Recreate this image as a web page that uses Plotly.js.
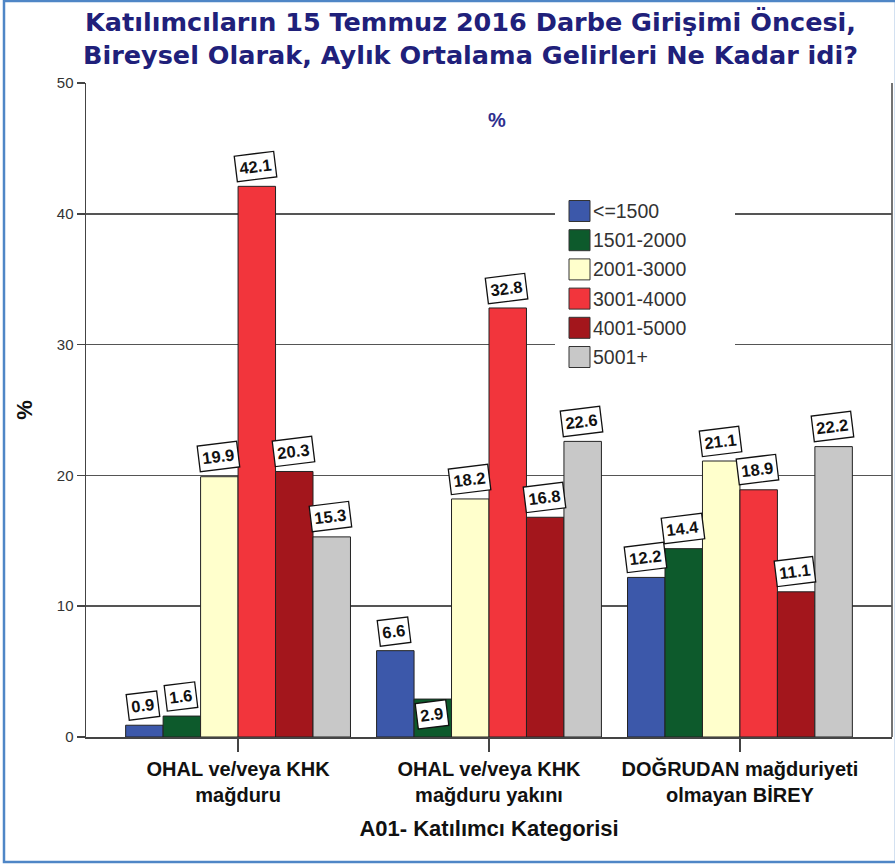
<!DOCTYPE html>
<html>
<head>
<meta charset="utf-8">
<script src="https://cdn.plot.ly/plotly-3.0.1.min.js"></script>
<style>html,body{margin:0;padding:0;background:#fff;}#chart{width:895px;height:865px;}</style>
</head>
<body>
<div id="chart"></div>
<script>
// ---- data ----
const categories = ["OHAL ve/veya KHK<br>mağduru", "OHAL ve/veya KHK<br>mağduru yakını", "DOĞRUDAN mağduriyeti<br>olmayan BİREY"];
const seriesNames = ["<=1500", "1501-2000", "2001-3000", "3001-4000", "4001-5000", "5001+"];
const s_le1500 = [0.9, 6.6, 12.2];
const s_1501_2000 = [1.6, 2.9, 14.4];
const s_2001_3000 = [19.9, 18.2, 21.1];
const s_3001_4000 = [42.1, 32.8, 18.9];
const s_4001_5000 = [20.3, 16.8, 11.1];
const s_5001plus = [15.3, 22.6, 22.2];
const yTicks = [0, 10, 20, 30, 40, 50];
const titleText = "Katılımcıların 15 Temmuz 2016 Darbe Girişimi Öncesi,<br>Bireysel Olarak, Aylık Ortalama Gelirleri Ne Kadar idi?";
const xTitle = "A01- Katılımcı Kategorisi";
const yTitle = "%";

// ---- styles ----
const seriesValues = [s_le1500, s_1501_2000, s_2001_3000, s_3001_4000, s_4001_5000, s_5001plus];
const colors = ["#3C58AA", "#0D5A2C", "#FFFFCC", "#F2353C", "#A3161C", "#C8C8C8"];
const W = 895, H = 865;
const M = {l: 86, r: 3, t: 83, b: 128};
const pw = W - M.l - M.r, ph = H - M.t - M.b;
const bargap = 0.104;
const barW = (1 - bargap) / seriesNames.length;
const xIdx = categories.map((c, i) => i);
const sans = 'Liberation Sans, Arial, sans-serif';

const traces = seriesValues.map((vals, j) => ({
  type: 'bar',
  x: xIdx,
  y: vals,
  name: seriesNames[j],
  marker: {color: colors[j], line: {color: '#222', width: 1}},
  showlegend: false,
  hoverinfo: 'skip'
}));

const annotations = [];
const shapes = [];
// value labels
seriesValues.forEach((vals, j) => {
  vals.forEach((v, i) => {
    const x = i + (j - (seriesNames.length - 1) / 2) * barW;
    // SPSS pushed the one label that would collide with its neighbour down onto the bar
    const pushed = (i === 1 && j === 1);
    annotations.push({
      x: x, y: v, xref: 'x', yref: 'y',
      text: '<b>' + v.toFixed(1) + '</b>',
      showarrow: false,
      xanchor: 'center',
      yanchor: pushed ? 'top' : 'bottom',
      yshift: pushed ? 0 : 4,
      xshift: -1,
      textangle: -7,
      bgcolor: '#fff', bordercolor: '#111', borderwidth: 1.3, borderpad: 3,
      font: {family: sans, size: 16.5, color: '#111'}
    });
  });
});
// "%" label inside plot
annotations.push({
  xref: 'paper', yref: 'paper',
  x: (497 - M.l) / pw, y: 1 - (120 - M.t) / ph,
  text: '<b>%</b>', showarrow: false, xanchor: 'center', yanchor: 'middle',
  font: {family: sans, size: 20, color: '#2E2E8E'}
});
// title as two centred lines
annotations.push({
  xref: 'paper', yref: 'paper',
  x: (470 - M.l) / pw, y: 1 - (38 - M.t) / ph,
  text: '<b>' + titleText + '</b>', showarrow: false, xanchor: 'center', yanchor: 'middle',
  align: 'center',
  font: {family: 'DejaVu Sans, Verdana, sans-serif', size: 25.5, color: '#20207A'}
});
// manual legend
const lgLeft = 555, lgTop = 197, lgRight = 735, lgBottom = 370;
const px2x = p => (p - M.l) / pw;
const py2y = p => 1 - (p - M.t) / ph;
shapes.push({type: 'rect', xref: 'paper', yref: 'paper', layer: 'above',
  x0: px2x(lgLeft), x1: px2x(lgRight), y0: py2y(lgBottom), y1: py2y(lgTop),
  fillcolor: '#fff', line: {width: 0}});
const itemY0 = 211, itemStep = 29.2, boxS = 21, boxX = 569;
seriesNames.forEach((n, j) => {
  const cy = itemY0 + j * itemStep;
  shapes.push({type: 'rect', xref: 'paper', yref: 'paper', layer: 'above',
    x0: px2x(boxX), x1: px2x(boxX + boxS), y0: py2y(cy + boxS / 2), y1: py2y(cy - boxS / 2),
    fillcolor: colors[j], line: {color: '#333', width: 1}});
  annotations.push({xref: 'paper', yref: 'paper', x: px2x(boxX + boxS + 1), y: py2y(cy),
    text: n.replace('<', '&lt;'), showarrow: false, xanchor: 'left', yanchor: 'middle',
    font: {family: sans, size: 19.5, color: '#333'}});
});
// outer blue border
shapes.push({type: 'rect', xref: 'paper', yref: 'paper', layer: 'above',
  x0: px2x(4), x1: px2x(896), y0: py2y(862), y1: py2y(1),
  fillcolor: 'rgba(0,0,0,0)', line: {color: '#4F86C6', width: 2.5}});
// right plot frame line
shapes.push({type: 'line', xref: 'paper', yref: 'paper', layer: 'below',
  x0: 1, x1: 1, y0: 0, y1: 1, line: {color: '#444', width: 1.5}});

const layout = {
  width: W, height: H,
  margin: M,
  paper_bgcolor: '#fff', plot_bgcolor: '#fff',
  barmode: 'group', bargap: bargap, bargroupgap: 0,
  xaxis: {
    type: 'linear', range: [-0.606, 2.606],
    tickmode: 'array', tickvals: xIdx, ticktext: categories.map(c => '<b>' + c + '</b>'),
    ticks: 'outside', ticklen: 13, tickwidth: 1.5, tickcolor: '#444',
    showline: true, linecolor: '#444', linewidth: 1.5,
    showgrid: false, zeroline: false,
    tickfont: {family: sans, size: 20, color: '#111'},
    title: {text: '<b>' + xTitle + '</b>', standoff: 16, font: {family: sans, size: 22, color: '#111'}}
  },
  yaxis: {
    range: [0, 50], tickmode: 'array', tickvals: yTicks,
    ticks: 'outside', ticklen: 8, tickwidth: 1.5, tickcolor: '#444',
    showline: true, linecolor: '#444', linewidth: 1.5,
    showgrid: true, gridcolor: '#555', gridwidth: 1.5,
    zeroline: false,
    tickfont: {family: sans, size: 15, color: '#333'},
    title: {text: '<b>' + yTitle + '</b>', standoff: 18, font: {family: sans, size: 22, color: '#111'}}
  },
  annotations: annotations,
  shapes: shapes,
  showlegend: false
};

Plotly.newPlot('chart', traces, layout, {displayModeBar: false, staticPlot: true});
</script>
</body>
</html>
